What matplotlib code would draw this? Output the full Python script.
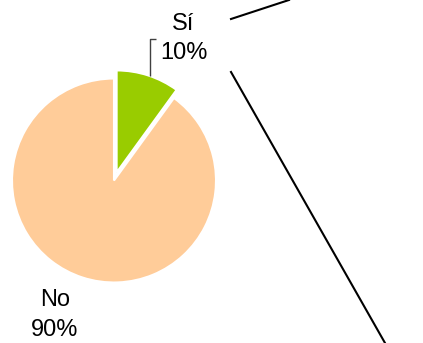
import matplotlib
matplotlib.use("Agg")
import matplotlib.pyplot as plt

categories = ["Sí", "No"]
values = [10, 90]
pct_labels = ["10%", "90%"]
colors = ["#99CC00", "#FFCC99"]

W, H = 423, 343
fig = plt.figure(figsize=(W / 100, H / 100), dpi=100)
ax = fig.add_axes([0, 0, 1, 1])

def Y(y):
    return H - y

ax.pie(values, colors=colors, startangle=90, counterclock=False,
       explode=[8.5, 0], radius=102, center=(114, Y(180.5)),
       wedgeprops=dict(edgecolor="white", linewidth=1.5), frame=True)
ax.set_xlim(0, W)
ax.set_ylim(0, H)
ax.set_aspect("equal")
ax.axis("off")

font = dict(family=["Liberation Sans", "DejaVu Sans"], fontsize=17, color="black",
            ha="center", va="center")
ax.text(183.5, Y(24), categories[0], **font)
ax.text(184, Y(53), pct_labels[0], **font)
ax.text(55.5, Y(300), categories[1], **font)
ax.text(54.5, Y(330), pct_labels[1], **font)

# leader line for Sí label
ax.plot([150, 150, 156], [Y(76), Y(39), Y(39)], color="#404040", lw=1, solid_capstyle="butt")

# connector lines
ax.plot([231, 289], [Y(19), Y(0)], color="black", lw=1.5)
ax.plot([231, 385], [Y(72), Y(343)], color="black", lw=1.5)

fig.savefig("out.png", dpi=100)
